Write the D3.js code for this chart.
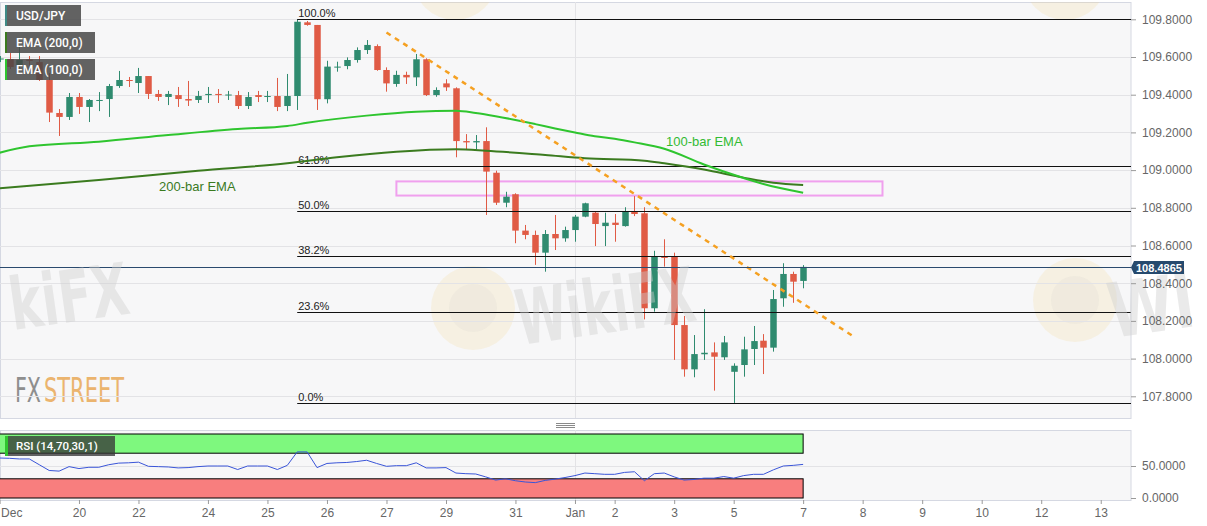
<!DOCTYPE html>
<html><head><meta charset="utf-8">
<script src="https://cdn.jsdelivr.net/npm/d3@7"></script>
<style>body{margin:0;background:#fff;} svg{display:block;font-family:"Liberation Sans",Arial,sans-serif;}</style>
</head><body><svg id="c" width="1207" height="526"></svg>
<script>
// ---------------- DATA ----------------
const openPrices  = [109.589,109.589,109.557,109.587,109.573,109.478,109.303,109.282,109.388,109.335,109.369,109.377,109.446,109.478,109.462,109.499,109.404,109.388,109.398,109.377,109.372,109.398,109.404,109.396,109.398,109.340,109.398,109.388,109.393,109.340,109.393,109.784,109.770,109.376,109.544,109.552,109.584,109.637,109.658,109.531,109.457,109.505,109.492,109.588,109.398,109.460,109.434,109.154,109.147,109.154,108.986,108.827,108.872,108.679,108.656,108.562,108.661,108.638,108.682,108.753,108.774,108.703,108.721,108.703,108.779,108.771,108.267,108.541,108.541,108.178,107.943,108.023,108.033,108.007,107.930,107.966,108.051,108.095,108.058,108.320,108.449,108.412];
const highPrices  = [109.605,109.621,109.664,109.605,109.605,109.515,109.324,109.409,109.409,109.377,109.414,109.457,109.526,109.494,109.542,109.499,109.425,109.420,109.441,109.473,109.420,109.441,109.430,109.420,109.420,109.414,109.420,109.420,109.489,109.510,109.800,109.791,109.770,109.580,109.575,109.598,109.651,109.690,109.667,109.545,109.527,109.522,109.616,109.593,109.439,109.482,109.439,109.191,109.186,109.227,108.997,108.885,108.877,108.709,108.679,108.682,108.762,108.700,108.762,108.827,108.779,108.774,108.767,108.803,108.862,108.803,108.572,108.633,108.562,108.226,108.125,108.262,108.086,108.120,107.975,108.116,108.173,108.130,108.364,108.506,108.461,108.496];
const lowPrices   = [109.573,109.536,109.540,109.552,109.473,109.255,109.181,109.266,109.298,109.255,109.313,109.282,109.436,109.441,109.409,109.377,109.367,109.345,109.335,109.340,109.356,109.356,109.356,109.372,109.324,109.324,109.361,109.361,109.313,109.313,109.319,109.766,109.319,109.354,109.522,109.535,109.570,109.616,109.527,109.416,109.442,109.457,109.446,109.393,109.389,109.420,109.068,109.110,109.110,108.762,108.815,108.803,108.612,108.633,108.497,108.461,108.576,108.620,108.620,108.750,108.597,108.597,108.620,108.700,108.756,108.208,108.249,108.488,107.993,107.904,107.901,107.993,107.830,107.993,107.765,107.904,107.966,107.918,108.037,108.275,108.296,108.373];
const closePrices = [109.592,109.547,109.584,109.579,109.478,109.305,109.282,109.388,109.335,109.372,109.372,109.446,109.478,109.473,109.499,109.404,109.388,109.404,109.377,109.369,109.393,109.404,109.398,109.401,109.340,109.388,109.388,109.393,109.335,109.393,109.787,109.770,109.376,109.549,109.549,109.584,109.637,109.664,109.531,109.460,109.505,109.492,109.588,109.398,109.425,109.439,109.154,109.147,109.154,108.992,108.827,108.859,108.679,108.656,108.562,108.661,108.638,108.682,108.753,108.824,108.714,108.721,108.709,108.779,108.767,108.267,108.541,108.534,108.178,107.943,108.024,108.031,108.010,108.086,107.962,108.049,108.093,108.058,108.316,108.449,108.408,108.4865];
const rsiValues   = [62.5,62,61,61,52,43,42,49,46,48,48,52,54.5,55,56,49.5,49,48.5,47,47.5,49,50,50,50,44.5,50,50,50,44.5,51,72,72,47.5,54,55,55.5,57,59,54,49.5,50.5,50.5,55,47,47,47.5,39,38,37.5,33,28,30,27,25,24,27.5,29.5,32,35,39,38,37,37,40,41,27,38,39,33,28,29,31,31,33.5,31,35,37,37,44,50,51,52.5];

const ema100Index = [0,3,10,17,24,29,31,37,42,46,48,50,52,54,56,58,60,62,64,67,71,75,77,81];
const ema100Value = [109.092,109.126,109.151,109.186,109.218,109.234,109.251,109.289,109.310,109.315,109.303,109.286,109.266,109.244,109.221,109.200,109.180,109.166,109.147,109.113,109.030,108.958,108.926,108.880];
const ema200Index = [0,10,20,29,34,40,46,49,55,59,65,67,71,75,78,81];
const ema200Value = [108.903,108.947,108.997,109.036,109.068,109.097,109.110,109.103,109.080,109.063,109.050,109.036,109.003,108.960,108.933,108.921];

const priceTicks = [107.8,108.0,108.2,108.4,108.6,108.8,109.0,109.2,109.4,109.6,109.8];
const rsiTicks = [0,50];
const rsiLevels = [70,30];
const timeTickIndex  = [0,8,14,21,27,33,39,45,52,58,62,68,74,81,87,93,99,105,111];
const timeTickLabels = ["Dec","20","22","24","25","26","27","29","31","Jan","2","3","5","7","8","9","10","12","13"];

const fibRatios = [1,0.618,0.5,0.382,0.236,0];
const fibLabels = ["100.0%","61.8%","50.0%","38.2%","23.6%","0.0%"];
const fibHigh = 109.80, fibLow = 107.765, fibStartIndex = 30;
const zoneIndex = [40,89];
const zonePrice = [108.94,108.865];
const trendIndex = [39,86];
const trendPrice = [109.73,108.12];
const lastPrice = 108.4865;

// ---------------- SETUP ----------------
const svg = d3.select("#c");
const W = 1207, plotR = 1131;
const mainTop = 2, mainBot = 418, rsiTop = 430, rsiBot = 500;
const x = d3.scaleLinear().domain([0,114]).range([-0.4,1130.5]);
const y = d3.scaleLinear().domain([107.8,109.8]).range([396.3,19.3]);
const yr = d3.scaleLinear().domain([0,100]).range([498,434]);
const up = "#2f8b6f", down = "#e05b45";

const defs = svg.append("defs");
defs.append("clipPath").attr("id","cm").append("rect").attr("x",0).attr("y",mainTop).attr("width",plotR).attr("height",mainBot-mainTop);
defs.append("clipPath").attr("id","cr").append("rect").attr("x",0).attr("y",rsiTop).attr("width",plotR).attr("height",rsiBot-rsiTop);

svg.append("rect").attr("width",W).attr("height",526).attr("fill","#fff");
// panels
svg.append("rect").attr("x",0.5).attr("y",mainTop+0.5).attr("width",plotR-0.5).attr("height",mainBot-mainTop).attr("fill","#f7f7f8").attr("stroke","#d5d8e2");
svg.append("rect").attr("x",0.5).attr("y",rsiTop+0.5).attr("width",plotR-0.5).attr("height",rsiBot-rsiTop).attr("fill","#f7f7f8").attr("stroke","#d5d8e2");
// handle
[423.5,425.5,427.5].forEach(v=>svg.append("line").attr("x1",556).attr("x2",575).attr("y1",v).attr("y2",v).attr("stroke","#8a8a8a"));

const gm = svg.append("g").attr("clip-path","url(#cm)");
const gr = svg.append("g").attr("clip-path","url(#cr)");

// helper: text squeezed horizontally to a target width via transform
function fitText(parent, str, tx, ty, width, rot, family, size, weight, fill, opacity){
  const t = parent.append("text").attr("x",0).attr("y",0).attr("font-family",family).attr("font-size",size)
    .attr("font-weight",weight).attr("fill",fill).attr("opacity",opacity).text(str);
  const len = t.node().getComputedTextLength() || width;
  t.attr("transform",`translate(${tx},${ty}) rotate(${rot}) scale(${width/len},1)`);
  return t;
}

// watermarks
const wm = gm.append("g");
[[473,308],[1075,300],[455,-22],[1065,-22]].forEach(c=>{
  wm.append("circle").attr("cx",c[0]).attr("cy",c[1]).attr("r",42).attr("fill","#f4d98c").attr("opacity",0.2);
  wm.append("circle").attr("cx",c[0]).attr("cy",c[1]).attr("r",24).attr("fill","#bdbdbd").attr("opacity",0.1);
});
const wm2 = svg.append("g");
fitText(wm2,"WikiFX",520,345,180,-8,"DejaVu Sans",76,"bold","#cfcfcf",0.42);
fitText(wm2,"kiFX",13,330,120,-8,"DejaVu Sans",72,"bold","#cfcfcf",0.42);
fitText(wm2,"Wi",1112,338,86,-8,"DejaVu Sans",76,"bold","#cfcfcf",0.42);
// FXSTREET logo
fitText(gm,"FX",15,402,26,0,"DejaVu Sans Condensed",34,"normal","#8e8e8e",1);
fitText(gm,"STREET",44,402,80,0,"DejaVu Sans Condensed",34,"normal","#ebb46e",1);

// gridlines
gm.selectAll(".hg").data(priceTicks).join("line").attr("x1",0).attr("x2",plotR)
  .attr("y1",d=>Math.round(y(d))+0.5).attr("y2",d=>Math.round(y(d))+0.5).attr("stroke","#e3e3e6");
gm.append("line").attr("x1",Math.round(x(58))+0.5).attr("x2",Math.round(x(58))+0.5).attr("y1",mainTop).attr("y2",mainBot).attr("stroke","#e3e3e6");
gr.append("line").attr("x1",Math.round(x(58))+0.5).attr("x2",Math.round(x(58))+0.5).attr("y1",rsiTop).attr("y2",rsiBot).attr("stroke","#e3e3e6");
gr.append("line").attr("x1",0).attr("x2",plotR).attr("y1",Math.round(yr(50))+0.5).attr("y2",Math.round(yr(50))+0.5).attr("stroke","#e3e3e6");

// zone
gm.append("rect").attr("x",x(zoneIndex[0])).attr("y",y(zonePrice[0])).attr("width",x(zoneIndex[1])-x(zoneIndex[0]))
  .attr("height",y(zonePrice[1])-y(zonePrice[0])).attr("fill","none").attr("stroke","#f0a0ee").attr("stroke-width",2);

// candles
const idx = d3.range(closePrices.length);
const cg = gm.append("g");
cg.selectAll(".w").data(idx).join("line")
  .attr("x1",i=>Math.round(x(i))+0.5).attr("x2",i=>Math.round(x(i))+0.5)
  .attr("y1",i=>y(highPrices[i])).attr("y2",i=>y(lowPrices[i]))
  .attr("stroke",i=>closePrices[i]>=openPrices[i]?up:down).attr("stroke-width",1);
cg.selectAll(".b").data(idx).join("rect")
  .attr("x",i=>Math.round(x(i))+0.5-3.25).attr("width",6.5)
  .attr("y",i=>y(Math.max(openPrices[i],closePrices[i])))
  .attr("height",i=>Math.max(1,Math.abs(y(openPrices[i])-y(closePrices[i]))))
  .attr("fill",i=>closePrices[i]>=openPrices[i]?up:down);

// fib lines
const fibPrice = r=>fibLow + r*(fibHigh-fibLow);
gm.selectAll(".fl").data(fibRatios).join("line").attr("x1",x(fibStartIndex)).attr("x2",plotR)
  .attr("y1",r=>Math.round(y(fibPrice(r)))+0.5).attr("y2",r=>Math.round(y(fibPrice(r)))+0.5).attr("stroke","#111").attr("stroke-width",1);
gm.selectAll(".ft").data(fibRatios).join("text").attr("x",x(fibStartIndex)+1).attr("y",r=>Math.round(y(fibPrice(r)))-2)
  .attr("font-size",11).attr("fill","#222").text((r,i)=>fibLabels[i]);

// EMAs
const ln = d3.line().curve(d3.curveMonotoneX);
gm.append("path").attr("d",ln(ema200Index.map((k,i)=>[x(k),y(ema200Value[i])]))).attr("fill","none").attr("stroke","#3b7b1f").attr("stroke-width",2);
gm.append("path").attr("d",ln(ema100Index.map((k,i)=>[x(k),y(ema100Value[i])]))).attr("fill","none").attr("stroke","#2fc52f").attr("stroke-width",2);
gm.append("text").attr("x",666).attr("y",146).attr("font-size",13).attr("fill","#33bb33").text("100-bar EMA");
gm.append("text").attr("x",159).attr("y",191).attr("font-size",13).attr("fill","#3a7a1e").text("200-bar EMA");

// trend line
gm.append("line").attr("x1",x(trendIndex[0])).attr("y1",y(trendPrice[0])).attr("x2",x(trendIndex[1])).attr("y2",y(trendPrice[1]))
  .attr("stroke","#f5a021").attr("stroke-width",2.5).attr("stroke-dasharray","5,5");

// last price line
gm.append("line").attr("x1",0).attr("x2",plotR).attr("y1",Math.round(y(lastPrice))+0.5).attr("y2",Math.round(y(lastPrice))+0.5).attr("stroke","#2a4a6e");

// RSI
gr.selectAll(".z").data(rsiLevels).join("rect")
  .attr("x",-1).attr("width",x(81)+1)
  .attr("y",(d,i)=>i===0?yr(100):yr(30)).attr("height",(d,i)=>i===0?yr(70)-yr(100):yr(0)-yr(30))
  .attr("fill",(d,i)=>i===0?"#7ef87e":"#f87e7e").attr("stroke","#000").attr("stroke-width",1);
gr.append("path").attr("d",d3.line()(idx.map(i=>[x(i),yr(rsiValues[i])]))).attr("fill","none").attr("stroke","#3a55d8").attr("stroke-width",1);

// axes
const ya = svg.append("g").attr("transform",`translate(${plotR},0)`).call(d3.axisRight(y).tickValues(priceTicks).tickFormat(d3.format(".4f")).tickSize(5).tickPadding(6));
const ra = svg.append("g").attr("transform",`translate(${plotR},0)`).call(d3.axisRight(yr).tickValues(rsiTicks).tickFormat(d3.format(".4f")).tickSize(5).tickPadding(6));
const xa = svg.append("g").attr("transform",`translate(0,${rsiBot})`).call(d3.axisBottom(x).tickValues(timeTickIndex).tickFormat((d,i)=>timeTickLabels[i]).tickSize(4).tickPadding(4));
[ya,ra,xa].forEach(a=>{
  a.select(".domain").remove();
  a.selectAll(".tick line").attr("stroke","#9a9a9a");
  a.selectAll(".tick text").attr("fill","#666").attr("font-size",12).attr("font-family","Liberation Sans, Arial, sans-serif");
});
xa.selectAll(".tick text").filter((d,i)=>i===0).attr("text-anchor","start").attr("x",1);

// price tag
const ty = Math.round(y(lastPrice))+0.5;
svg.append("path").attr("d",`M${plotR},${ty} L${plotR+3},${ty-6.5} L${plotR+53},${ty-6.5} L${plotR+53},${ty+6.5} L${plotR+3},${ty+6.5} Z`).attr("fill","#264a6e");
svg.append("text").attr("x",plotR+5).attr("y",ty+4).attr("font-size",11).attr("font-weight","bold").attr("fill","#fff").text(lastPrice.toFixed(4));

// legends
const legends = [["USD/JPY",5,76,"#3f8a86"],["EMA (200,0)",32,90,"#3b7b1f"],["EMA (100,0)",59,90,"#2fc52f"]];
legends.forEach(l=>{
  svg.append("rect").attr("x",5).attr("y",l[1]).attr("width",l[2]).attr("height",21).attr("fill","rgba(72,72,72,0.85)");
  svg.append("rect").attr("x",5).attr("y",l[1]).attr("width",2).attr("height",21).attr("fill",l[3]);
  svg.append("text").attr("x",16).attr("y",l[1]+15).attr("font-family","Roboto").attr("font-weight",500).attr("font-size",12).attr("fill","#fff").text(l[0]);
});
svg.append("rect").attr("x",5).attr("y",436).attr("width",110).attr("height",20).attr("fill","rgba(55,55,55,0.78)");
svg.append("rect").attr("x",5).attr("y",436).attr("width",3).attr("height",20).attr("fill","#2fc52f");
svg.append("text").attr("x",16).attr("y",450).attr("font-family","Roboto").attr("font-weight",500).attr("font-size",11.5).attr("fill","#fff").text("RSI (14,70,30,1)");
</script></body></html>
